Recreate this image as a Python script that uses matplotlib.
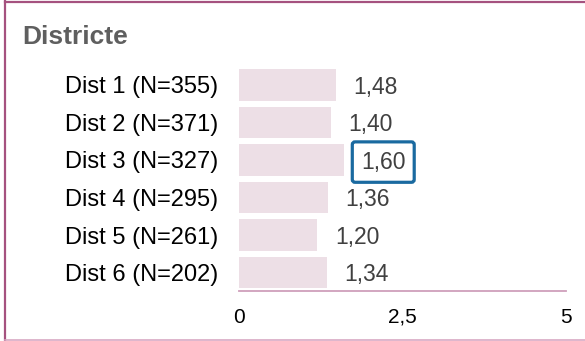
import matplotlib
matplotlib.use("Agg")
import matplotlib.pyplot as plt
from matplotlib.lines import Line2D

categories = ["Dist 1 (N=355)", "Dist 2 (N=371)", "Dist 3 (N=327)",
              "Dist 4 (N=295)", "Dist 5 (N=261)", "Dist 6 (N=202)"]
values = [1.48, 1.40, 1.60, 1.36, 1.20, 1.34]
highlight = "Dist 3 (N=327)"
xticks = [0, 2.5, 5]
xtick_labels = ["0", "2,5", "5"]
title = "Districte"

plt.rcParams["font.family"] = ["Liberation Sans", "DejaVu Sans"]

W, H = 585, 341
fig = plt.figure(figsize=(W / 100, H / 100), dpi=100)

# axes placed in pixel terms
left_px, right_px, top_px, bottom_px = 239, 566, 68, 291
ax = fig.add_axes([left_px / W, 1 - bottom_px / H,
                   (right_px - left_px) / W, (bottom_px - top_px) / H])

ypos = list(range(len(categories)))
ax.barh(ypos, values, height=0.85, color="#eddfe6", edgecolor="none")
ax.set_xlim(0, 5)
ax.set_ylim(5.493, -0.453)

for y, v, c in zip(ypos, values, categories):
    txt = f"{v:.2f}".replace(".", ",")
    kw = {}
    if c == highlight:
        kw["bbox"] = dict(boxstyle="round,pad=0.38,rounding_size=0.12",
                          facecolor="white", edgecolor="#1a6aa0", linewidth=2.3)
    ax.annotate(txt, (v, y), xytext=(12.5, -1.5), textcoords="offset points",
                ha="left", va="center", fontsize=16.5, color="#404040", **kw)

ax.set_yticks(ypos)
ax.set_yticklabels(categories, fontsize=17, color="black")
ax.set_xticks(xticks)
ax.set_xticklabels(xtick_labels, fontsize=15, color="black")
ax.tick_params(axis="both", length=0)
ax.tick_params(axis="y", pad=15)
ax.tick_params(axis="x", pad=12)

for s in ["top", "right", "left"]:
    ax.spines[s].set_visible(False)
ax.spines["bottom"].set_color("#cf9fbb")
ax.spines["bottom"].set_linewidth(1.3)

fig.text(22 / W, 1 - 44 / H, title, fontsize=19, fontweight="bold",
         color="#5f5f5f", ha="left", va="baseline")

# frame lines around the panel
fig.add_artist(Line2D([5 / W, 1], [1 - 1.5 / H] * 2, color="#a5527f",
                      linewidth=1.6, transform=fig.transFigure))
fig.add_artist(Line2D([5 / W] * 2, [0, 1 - 0.5 / H], color="#a5527f",
                      linewidth=1.6, transform=fig.transFigure))
fig.add_artist(Line2D([5 / W, 1], [0.8 / H] * 2, color="#d8a9c4",
                      linewidth=1.2, transform=fig.transFigure))

fig.savefig("out.png", dpi=100)
